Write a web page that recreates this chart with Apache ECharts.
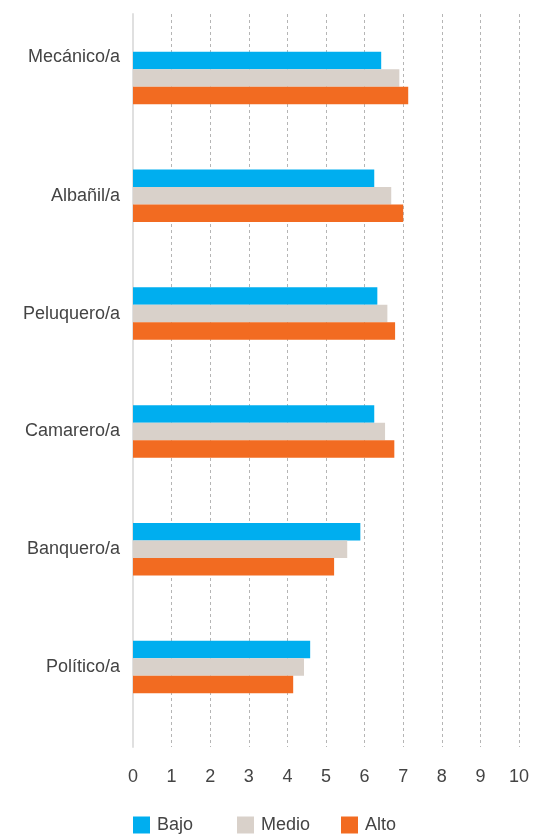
<!DOCTYPE html>
<html>
<head>
<meta charset="utf-8">
<script src="https://cdn.jsdelivr.net/npm/echarts@6/dist/echarts.min.js"></script>
<style>
  html, body { margin: 0; padding: 0; background: #fff; }
  #main { width: 533px; height: 835px; }
</style>
</head>
<body>
<div id="main"></div>
<script>
// oficios (de arriba a abajo)
const oficios = ['Mecánico/a', 'Albañil/a', 'Peluquero/a', 'Camarero/a', 'Banquero/a', 'Político/a'];
// valores por nivel
const bajo  = [6.43, 6.25, 6.33, 6.25, 5.89, 4.59];
const medio = [6.90, 6.69, 6.59, 6.53, 5.55, 4.43];
const alto  = [7.13, 7.00, 6.79, 6.77, 5.21, 4.15];
const niveles = ['Bajo', 'Medio', 'Alto'];
const colores = ['#00aeef', '#d9d1ca', '#f26b21'];
const ticks = [0, 1, 2, 3, 4, 5, 6, 7, 8, 9, 10];

const fuente = 'Liberation Sans';
var myChart = echarts.init(document.getElementById('main'));

const legendPos = [133, 237, 341];

let option = {
  animation: false,
  color: colores,
  textStyle: { fontFamily: fuente },
  legend: niveles.map(function (n, i) {
    return {
      data: [n],
      left: legendPos[i],
      top: 816,
      padding: 0,
      itemWidth: 17,
      itemHeight: 17,
      itemGap: 0,
      icon: 'rect',
      textStyle: { fontSize: 18, color: '#444', fontFamily: fuente, padding: [0, 0, 0, 2] }
    };
  }),
  grid: [
    // barras
    { left: 133, right: 14, top: 19, bottom: 109 },
    // ejes y líneas de rejilla
    { left: 133, right: 14, top: 14, bottom: 88 }
  ],
  xAxis: [
    {
      type: 'value', gridIndex: 0, min: 0, max: 10, interval: 1,
      axisLine: { show: false }, axisTick: { show: false },
      axisLabel: { show: false }, splitLine: { show: false }
    },
    {
      type: 'value', gridIndex: 1, min: ticks[0], max: ticks[ticks.length - 1], interval: 1,
      axisLine: { show: false }, axisTick: { show: false },
      axisLabel: { fontSize: 18, color: '#444', margin: 21, fontFamily: fuente },
      splitLine: {
        show: true,
        lineStyle: { color: '#b5b5b5', width: 1, type: [3, 3] }
      }
    }
  ],
  yAxis: [
    {
      type: 'category', gridIndex: 0, inverse: true, data: oficios,
      axisLine: { show: false }, axisTick: { show: false },
      axisLabel: {
        fontSize: 18, color: '#444', margin: 13, fontFamily: fuente,
        formatter: function (v, i) { return i === 0 ? '{up|' + v + '}' : v; },
        rich: { up: { fontSize: 18, color: '#444', fontFamily: fuente, padding: [0, 0, 42, 0] } }
      }
    },
    {
      type: 'value', gridIndex: 1,
      axisLine: { show: true, lineStyle: { color: '#e0e0e0', width: 2 } },
      axisTick: { show: false }, axisLabel: { show: false }, splitLine: { show: false }
    }
  ],
  series: [
    { name: niveles[0], type: 'bar', data: bajo,  barWidth: 17.5, barGap: 0, xAxisIndex: 0, yAxisIndex: 0 },
    { name: niveles[1], type: 'bar', data: medio, barWidth: 17.5, barGap: 0, xAxisIndex: 0, yAxisIndex: 0 },
    { name: niveles[2], type: 'bar', data: alto,  barWidth: 17.5, barGap: 0, xAxisIndex: 0, yAxisIndex: 0 }
  ]
};
myChart.setOption(option);
</script>
</body>
</html>
